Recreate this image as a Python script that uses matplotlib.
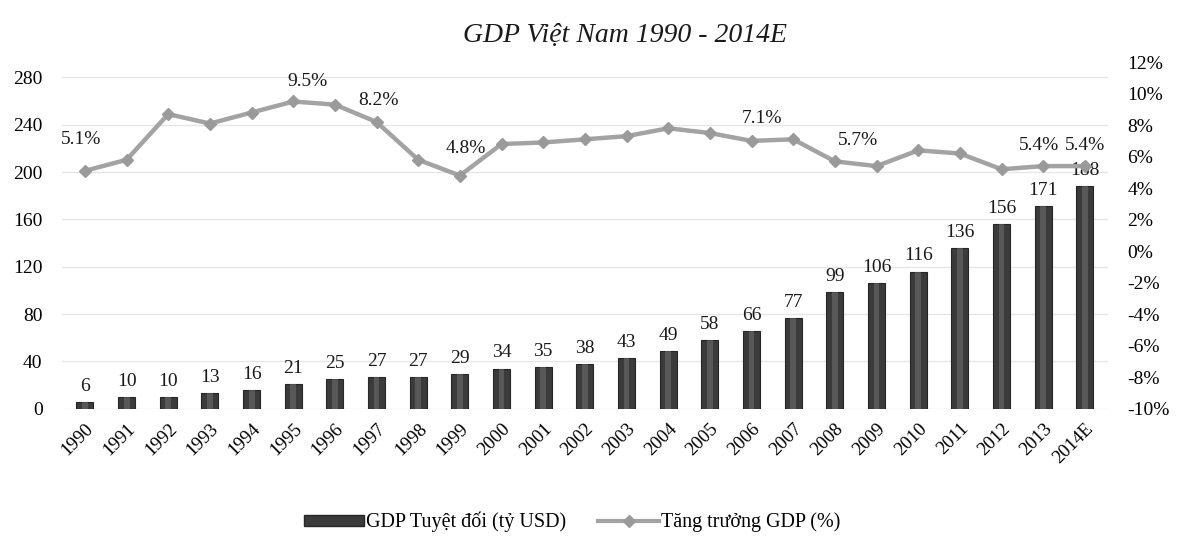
import matplotlib
matplotlib.use("Agg")
import matplotlib.pyplot as plt
import numpy as np
from matplotlib.lines import Line2D
from matplotlib.patches import Patch

years = ["1990", "1991", "1992", "1993", "1994", "1995", "1996", "1997", "1998", "1999",
         "2000", "2001", "2002", "2003", "2004", "2005", "2006", "2007", "2008", "2009",
         "2010", "2011", "2012", "2013", "2014E"]
gdp_abs = [6, 10, 10, 13, 16, 21, 25, 27, 27, 29, 34, 35, 38, 43, 49, 58, 66, 77, 99, 106,
           116, 136, 156, 171, 188]
gdp_growth = [5.1, 5.8, 8.7, 8.1, 8.8, 9.5, 9.3, 8.2, 5.8, 4.8, 6.8, 6.9, 7.1, 7.3, 7.8, 7.5,
              7.0, 7.1, 5.7, 5.4, 6.4, 6.2, 5.2, 5.4, 5.4]
growth_labels = {0: "5.1%", 5: "9.5%", 7: "8.2%", 9: "4.8%", 17: "7.1%", 18: "5.7%",
                 23: "5.4%", 24: "5.4%"}
left_ticks = [0, 40, 80, 120, 160, 200, 240, 280]
right_ticks = [-10, -8, -6, -4, -2, 0, 2, 4, 6, 8, 10, 12]

plt.rcParams['font.family'] = ['Liberation Serif', 'DejaVu Serif']

fig = plt.figure(figsize=(11.79, 5.40), dpi=100)
ax = fig.add_axes([0.0526, 0.243, 0.887, 0.642])
ax2 = ax.twinx()

x = np.arange(len(years))
bar_color = "#3b3b3b"
ax.bar(x, gdp_abs, width=0.41, color=bar_color, edgecolor="#262626", linewidth=0.8, zorder=2)
# lighter sheen to mimic cylinder gradient
ax.bar(x, gdp_abs, width=0.14, color="#707070", linewidth=0, zorder=2.5, alpha=0.55)

for xi, v in zip(x, gdp_abs):
    ax.text(xi, v + 6, f"{v}", ha="center", va="bottom", fontsize=14, color="#1a1a1a", zorder=5)

ax.set_ylim(0, 293)
ax.set_yticks(left_ticks)
ax.set_yticklabels([str(t) for t in left_ticks])
ax.set_xlim(-0.55, len(years) - 0.45)
ax.set_xticks(x)
ax.set_xticklabels(years, rotation=45, ha="right", rotation_mode="anchor")
ax.tick_params(axis="x", length=0, labelsize=13.5, pad=8)
ax.tick_params(axis="y", length=0, labelsize=14, pad=14)
ax.grid(axis="y", color="#e6e6e6", linewidth=1.0, zorder=0)
ax.set_axisbelow(True)
for s in ax.spines.values():
    s.set_visible(False)
for s in ax2.spines.values():
    s.set_visible(False)

line_color = "#a3a3a3"
ax2.plot(x, gdp_growth, color=line_color, linewidth=3.2, marker="D", markersize=6.5,
         markerfacecolor="#9a9a9a", markeredgecolor="#9a9a9a", zorder=3)
offsets = {0: (-0.1, 1.45), 5: (0.35, 0.75), 7: (0.05, 0.8), 9: (0.15, 1.2), 17: (-0.75, 0.8),
           18: (0.55, 0.8), 23: (-0.1, 0.75), 24: (0.0, 0.75)}
for i, lab in growth_labels.items():
    dx, dy = offsets[i]
    ax2.text(i + dx, gdp_growth[i] + dy, lab, ha="center", va="bottom", fontsize=14,
             color="#1a1a1a", zorder=4)
ax2.set_ylim(-10, 12)
ax2.set_yticks(right_ticks)
ax2.set_yticklabels([f"{t}%" for t in right_ticks])
ax2.tick_params(axis="y", length=0, labelsize=14, pad=14)

ax.patch.set_visible(False)
ax2.patch.set_visible(False)
ax2.set_zorder(ax.get_zorder() + 1)

fig.text(0.53, 0.935, "GDP Việt Nam 1990 - 2014E", ha="center", va="center", fontsize=20,
         style="italic", color="#1a1a1a")

handles = [Patch(facecolor=bar_color, edgecolor="#262626"),
           Line2D([0], [0], color=line_color, linewidth=3, marker="D", markersize=6,
                  markerfacecolor="#9a9a9a", markeredgecolor="#9a9a9a")]
fig.legend(handles, ["GDP Tuyệt đối (tỷ USD)", "Tăng trưởng GDP (%)"], loc="center",
           bbox_to_anchor=(0.485, 0.033), ncol=2, frameon=False, fontsize=14.5,
           handlelength=3.0, handleheight=0.5, columnspacing=1.6, handletextpad=0.1)

fig.savefig("out.png", dpi=100, facecolor="white")
